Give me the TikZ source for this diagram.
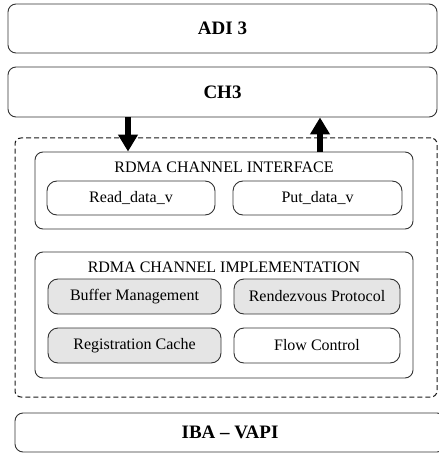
\documentclass[tikz,border=0pt]{standalone}
\usepackage{fontspec}
\setmainfont{Liberation Serif}
\usetikzlibrary{arrows.meta, positioning}
\tikzset{
  layerbox/.style={
    rectangle, rounded corners=8pt,
    minimum width=#1, minimum height=49pt,
    text centered, font=\fontsize{19}{22}\selectfont\bfseries,
    draw=black!80, line width=0.9pt
  },
  groupbox/.style={
    rectangle, rounded corners=8pt,
    minimum width=378pt,
    draw=black!80, line width=0.9pt
  },
  partbox/.style={
    rectangle, rounded corners=10pt,
    minimum height=35pt,
    text centered, font=\fontsize{16}{19}\selectfont,
    draw=black!80, line width=0.9pt, fill=#1
  },
  partbox/.default=white,
  titletext/.style={font=\fontsize{16}{19}\selectfont},
  flowarrow/.style={
    line width=6.5pt, draw=black,
    -{Triangle[width=19pt, length=17pt]}
  },
}

\begin{document}
\begin{tikzpicture}[x=1pt, y=-1pt]
  \useasboundingbox (0,0) rectangle (438,462);

  % outer layers
  \node[layerbox=429pt] (adi) at (222.5,28.5) {ADI 3};
  \node[layerbox=429pt, minimum height=50pt] (chthree) at (222.5,92) {CH3};

  % rdma channel frame
  \node[rectangle, rounded corners=6pt, draw=black!90, line width=1pt,
        dash pattern=on 5pt off 3pt,
        minimum width=422pt, minimum height=259pt] (rdma) at (226,267.5) {};

  % interface group
  \node[groupbox, minimum height=77pt] (iface) at (224,190.5) {};
  \node[titletext] (ifacetitle) at (224,167) {RDMA CHANNEL INTERFACE};
  \node[partbox, minimum width=168pt, minimum height=34pt] (read) at (131,198) {Read\_data\_v};
  \node[partbox, minimum width=169pt, minimum height=34pt] (put) at (317.5,198) {Put\_data\_v};

  % implementation group
  \node[groupbox, minimum height=126pt] (impl) at (224,315) {};
  \node[titletext] (impltitle) at (224,267) {RDMA CHANNEL IMPLEMENTATION};
  \node[partbox=black!10, minimum width=173pt] (buffer) at (134.5,296.5) {Buffer Management};
  \node[partbox=black!10, minimum width=166pt] (rendez) at (317,296.5) {Rendezvous Protocol};
  \node[partbox=black!10, minimum width=173pt] (regcache) at (134.5,345.5) {Registration Cache};
  \node[partbox, minimum width=166pt] (flow) at (317,345.5) {Flow Control};

  % transport layer
  \node[layerbox=430pt, minimum height=39pt] (iba) at (230,432.5) {IBA -- VAPI};

  % data paths
  \draw[flowarrow] ([xshift=-3pt]chthree.south -| read.north) -- ([xshift=-3pt]iface.north -| read.north);
  \draw[flowarrow] ([xshift=2.5pt]iface.north -| put.north) -- ([xshift=2.5pt]chthree.south -| put.north);
\end{tikzpicture}
\end{document}
